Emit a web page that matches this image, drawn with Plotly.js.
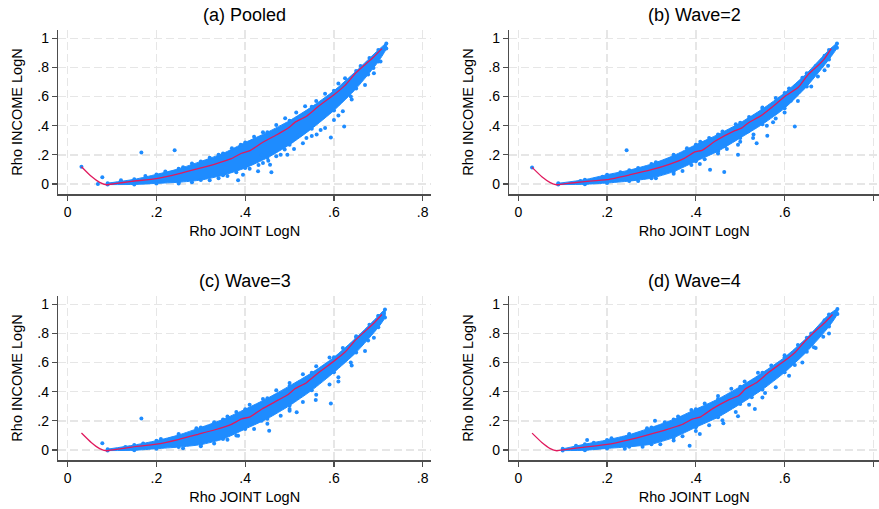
<!DOCTYPE html>
<html>
<head>
<meta charset="utf-8">
<script src="https://cdn.plot.ly/plotly-3.0.1.min.js"></script>
<style>html,body{margin:0;padding:0;background:#fff;}#chart{width:879px;height:509px;}</style>
</head>
<body>
<div id="chart"></div>
<script>
// ---------- data ----------
const panelTitles = ["(a) Pooled", "(b) Wave=2", "(c) Wave=3", "(d) Wave=4"];
const xTickVals = [0, 0.2, 0.4, 0.6, 0.8];
const xTickText = ["0", ".2", ".4", ".6", ".8"];
const yTickVals = [0, 0.2, 0.4, 0.6, 0.8, 1];
const yTickText = ["0", ".2", ".4", ".6", ".8", "1"];

// dense core of the point cloud: x positions with upper / lower edge
const aBandX = [0.09, 0.15, 0.2, 0.25, 0.3, 0.35, 0.4, 0.45, 0.5, 0.55, 0.6, 0.65, 0.7, 0.718];
const aUpper = [0.006, 0.032, 0.066, 0.104, 0.155, 0.21, 0.285, 0.355, 0.435, 0.53, 0.64, 0.775, 0.92, 0.965];
const aLower = [-0.004, -0.003, 0.004, 0.012, 0.027, 0.06, 0.11, 0.18, 0.27, 0.38, 0.505, 0.655, 0.84, 0.93];

const bBandX = [0.09, 0.15, 0.2, 0.25, 0.3, 0.35, 0.4, 0.45, 0.5, 0.55, 0.6, 0.65, 0.7, 0.718];
const bUpper = [0.005, 0.03, 0.064, 0.095, 0.137, 0.195, 0.27, 0.34, 0.42, 0.515, 0.625, 0.76, 0.92, 0.965];
const bLower = [-0.004, -0.002, 0.007, 0.02, 0.04, 0.085, 0.156, 0.225, 0.316, 0.41, 0.52, 0.67, 0.855, 0.935];

const cBandX = [0.09, 0.15, 0.2, 0.25, 0.3, 0.35, 0.4, 0.45, 0.5, 0.55, 0.6, 0.65, 0.7, 0.715];
const cUpper = [0.006, 0.034, 0.064, 0.103, 0.155, 0.21, 0.28, 0.355, 0.44, 0.53, 0.636, 0.77, 0.92, 0.965];
const cLower = [-0.004, -0.002, 0.009, 0.02, 0.037, 0.075, 0.144, 0.215, 0.305, 0.41, 0.533, 0.67, 0.842, 0.91];

const dBandX = [0.1, 0.15, 0.2, 0.25, 0.3, 0.35, 0.4, 0.45, 0.5, 0.55, 0.6, 0.65, 0.7, 0.719];
const dUpper = [0.008, 0.04, 0.069, 0.105, 0.155, 0.21, 0.28, 0.35, 0.435, 0.53, 0.636, 0.77, 0.93, 0.968];
const dLower = [-0.004, -0.002, 0.011, 0.022, 0.04, 0.085, 0.156, 0.225, 0.316, 0.415, 0.533, 0.675, 0.847, 0.934];

// sparser points around the edges of the cloud
const aHaloX = [0.12, 0.175, 0.22, 0.26, 0.28, 0.32, 0.34, 0.37, 0.39, 0.42, 0.44, 0.47, 0.49, 0.515, 0.535, 0.56, 0.58, 0.61, 0.625, 0.66, 0.68,
                0.25, 0.28, 0.32, 0.34, 0.36, 0.38, 0.41, 0.43, 0.44, 0.47, 0.48, 0.51, 0.53, 0.55, 0.57, 0.58, 0.6, 0.62, 0.64, 0.67, 0.69, 0.705];
const aHaloY = [0.025, 0.055, 0.085, 0.115, 0.14, 0.18, 0.2, 0.245, 0.27, 0.325, 0.355, 0.405, 0.452, 0.49, 0.533, 0.57, 0.62, 0.69, 0.725, 0.81, 0.865,
                0.004, 0.012, 0.025, 0.04, 0.055, 0.08, 0.105, 0.13, 0.145, 0.19, 0.2, 0.24, 0.28, 0.33, 0.37, 0.384, 0.44, 0.5, 0.58, 0.68, 0.76, 0.84];

const bHaloX = [0.14, 0.19, 0.23, 0.27, 0.31, 0.35, 0.38, 0.41, 0.43, 0.46, 0.49, 0.52, 0.55, 0.58, 0.61, 0.64, 0.67, 0.69,
                0.27, 0.31, 0.35, 0.37, 0.39, 0.42, 0.45, 0.47, 0.5, 0.53, 0.56, 0.58, 0.6, 0.63, 0.66, 0.69];
const bHaloY = [0.02, 0.05, 0.08, 0.11, 0.15, 0.2, 0.245, 0.29, 0.315, 0.36, 0.41, 0.46, 0.525, 0.59, 0.655, 0.73, 0.81, 0.88,
                0.02, 0.04, 0.07, 0.09, 0.13, 0.17, 0.21, 0.24, 0.29, 0.34, 0.4, 0.45, 0.49, 0.57, 0.67, 0.78];

const cHaloX = [0.13, 0.17, 0.21, 0.25, 0.29, 0.33, 0.36, 0.38, 0.41, 0.44, 0.47, 0.5, 0.53, 0.56, 0.59, 0.62, 0.65, 0.68, 0.7,
                0.26, 0.3, 0.33, 0.36, 0.38, 0.42, 0.45, 0.48, 0.5, 0.53, 0.56, 0.59, 0.61, 0.64, 0.67, 0.69];
const cHaloY = [0.02, 0.045, 0.075, 0.11, 0.15, 0.19, 0.23, 0.26, 0.31, 0.35, 0.41, 0.46, 0.52, 0.575, 0.635, 0.7, 0.78, 0.86, 0.92,
                0.012, 0.025, 0.045, 0.07, 0.1, 0.145, 0.18, 0.235, 0.27, 0.33, 0.38, 0.45, 0.5, 0.58, 0.68, 0.77];

const dHaloX = [0.13, 0.17, 0.21, 0.25, 0.29, 0.33, 0.36, 0.39, 0.42, 0.45, 0.48, 0.51, 0.54, 0.57, 0.6, 0.63, 0.66, 0.69,
                0.24, 0.28, 0.32, 0.35, 0.37, 0.4, 0.43, 0.46, 0.49, 0.52, 0.55, 0.58, 0.61, 0.64, 0.67, 0.7];
const dHaloY = [0.03, 0.05, 0.08, 0.11, 0.15, 0.19, 0.23, 0.275, 0.32, 0.37, 0.42, 0.47, 0.53, 0.58, 0.65, 0.72, 0.8, 0.89,
                0.008, 0.022, 0.04, 0.065, 0.095, 0.13, 0.17, 0.205, 0.26, 0.31, 0.36, 0.43, 0.51, 0.6, 0.7, 0.8];

// isolated points away from the cloud
const aOutX = [0.031, 0.068, 0.078, 0.166, 0.241, 0.384, 0.395, 0.429, 0.437, 0.452, 0.456, 0.459, 0.489, 0.495, 0.52, 0.538, 0.561, 0.593, 0.61, 0.623, 0.638, 0.677, 0.689];
const aOutY = [0.119, 0.0, 0.046, 0.217, 0.231, 0.025, 0.064, 0.087, 0.201, 0.16, 0.133, 0.08, 0.236, 0.201, 0.334, 0.316, 0.339, 0.32, 0.471, 0.394, 0.6, 0.751, 0.796];

const bOutX = [0.031, 0.244, 0.409, 0.432, 0.464, 0.465, 0.495, 0.495, 0.518, 0.529, 0.537, 0.561, 0.574, 0.614, 0.623, 0.675, 0.698];
const bOutY = [0.114, 0.231, 0.137, 0.098, 0.082, 0.259, 0.201, 0.27, 0.362, 0.316, 0.279, 0.332, 0.423, 0.572, 0.394, 0.737, 0.812];

const cOutX = [0.078, 0.166, 0.384, 0.437, 0.454, 0.5, 0.516, 0.559, 0.593, 0.61, 0.638, 0.677];
const cOutY = [0.046, 0.217, 0.098, 0.201, 0.133, 0.281, 0.259, 0.343, 0.32, 0.471, 0.6, 0.751];

const dOutX = [0.155, 0.308, 0.386, 0.409, 0.462, 0.495, 0.526, 0.533, 0.556, 0.623, 0.666, 0.687];
const dOutY = [0.069, 0.201, 0.03, 0.11, 0.183, 0.231, 0.362, 0.281, 0.391, 0.584, 0.705, 0.778];

// lowess fitted line
const aFitX = [0.031, 0.053, 0.072, 0.087, 0.106, 0.144, 0.2, 0.249, 0.294, 0.332, 0.369, 0.392, 0.411, 0.437, 0.474, 0.497, 0.512, 0.538, 0.565, 0.6, 0.625, 0.647, 0.67, 0.689, 0.708];
const aFitY = [0.119, 0.053, 0.011, -0.005, 0.002, 0.018, 0.037, 0.069, 0.105, 0.137, 0.174, 0.211, 0.229, 0.281, 0.343, 0.384, 0.423, 0.465, 0.533, 0.613, 0.677, 0.755, 0.819, 0.87, 0.929];

const bFitX = [0.031, 0.053, 0.072, 0.086, 0.106, 0.144, 0.2, 0.25, 0.3, 0.34, 0.375, 0.398, 0.414, 0.443, 0.488, 0.503, 0.518, 0.548, 0.575, 0.601, 0.631, 0.653, 0.676, 0.69, 0.705];
const bFitY = [0.114, 0.05, 0.01, -0.005, 0.002, 0.015, 0.03, 0.062, 0.098, 0.135, 0.178, 0.22, 0.231, 0.293, 0.366, 0.384, 0.419, 0.471, 0.535, 0.602, 0.664, 0.751, 0.815, 0.86, 0.929];

const cFitX = [0.031, 0.053, 0.072, 0.087, 0.106, 0.144, 0.2, 0.249, 0.294, 0.332, 0.369, 0.392, 0.411, 0.437, 0.474, 0.497, 0.512, 0.538, 0.565, 0.6, 0.625, 0.647, 0.67, 0.689, 0.708];
const cFitY = [0.117, 0.052, 0.01, -0.005, 0.003, 0.02, 0.04, 0.072, 0.108, 0.139, 0.176, 0.213, 0.228, 0.28, 0.342, 0.381, 0.42, 0.462, 0.53, 0.61, 0.672, 0.75, 0.815, 0.868, 0.93];

const dFitX = [0.031, 0.053, 0.072, 0.087, 0.106, 0.144, 0.2, 0.249, 0.294, 0.332, 0.369, 0.392, 0.411, 0.437, 0.474, 0.497, 0.512, 0.538, 0.565, 0.6, 0.625, 0.647, 0.67, 0.689, 0.708];
const dFitY = [0.116, 0.052, 0.01, -0.005, 0.003, 0.018, 0.038, 0.07, 0.106, 0.138, 0.175, 0.212, 0.228, 0.282, 0.344, 0.374, 0.42, 0.465, 0.535, 0.612, 0.675, 0.75, 0.818, 0.87, 0.93];

// ---------- drawing ----------
const BLUE = "#1e8cff";
const RED = "#e01a5e";
const FONT = "Liberation Sans, Arial, Helvetica, sans-serif";

const panels = [
  {bx: aBandX, up: aUpper, lo: aLower, hx: aHaloX, hy: aHaloY, ox: aOutX, oy: aOutY, fx: aFitX, fy: aFitY},
  {bx: bBandX, up: bUpper, lo: bLower, hx: bHaloX, hy: bHaloY, ox: bOutX, oy: bOutY, fx: bFitX, fy: bFitY},
  {bx: cBandX, up: cUpper, lo: cLower, hx: cHaloX, hy: cHaloY, ox: cOutX, oy: cOutY, fx: cFitX, fy: cFitY},
  {bx: dBandX, up: dUpper, lo: dLower, hx: dHaloX, hy: dHaloY, ox: dOutX, oy: dOutY, fx: dFitX, fy: dFitY}
];

const traces = [];
panels.forEach((p, i) => {
  const xa = i === 0 ? "x" : "x" + (i + 1);
  const ya = i === 0 ? "y" : "y" + (i + 1);
  traces.push({
    type: "scatter", mode: "lines", xaxis: xa, yaxis: ya,
    x: p.bx.concat(p.bx.slice().reverse()),
    y: p.up.concat(p.lo.slice().reverse()),
    fill: "toself", fillcolor: BLUE, line: {color: BLUE, width: 1, shape: "spline", smoothing: 0.6},
    hoverinfo: "skip", showlegend: false
  });
  traces.push({
    type: "scatter", mode: "markers", xaxis: xa, yaxis: ya,
    x: p.bx.concat(p.bx, p.hx, p.ox), y: p.up.concat(p.lo, p.hy, p.oy),
    marker: {color: BLUE, size: 4}, showlegend: false
  });
  traces.push({
    type: "scatter", mode: "lines", xaxis: xa, yaxis: ya,
    x: p.fx, y: p.fy, line: {color: RED, width: 1.3, shape: "spline", smoothing: 0.5},
    showlegend: false
  });
});

const W = 879, H = 509;
const colDom = [[58.3 / W, 431 / W], [509.3 / W, 1.0]];
const rowDom = [[1 - 194 / H, 1 - 30 / H], [1 - 460 / H, 1 - 296 / H]];
const xRanges = [[-0.0212, 0.8187], [-0.0203, 0.8127]];
const yRange = [-0.0686, 1.057];

const layout = {
  width: W, height: H,
  margin: {l: 0, r: 0, t: 0, b: 0},
  paper_bgcolor: "#ffffff", plot_bgcolor: "#ffffff",
  font: {family: FONT, size: 14, color: "#000"},
  showlegend: false,
  annotations: []
};

for (let i = 0; i < 4; i++) {
  const c = i % 2, r = Math.floor(i / 2);
  const sx = i === 0 ? "" : String(i + 1);
  layout["xaxis" + sx] = {
    domain: colDom[c], range: xRanges[c], anchor: "y" + sx,
    tickvals: xTickVals, ticktext: xTickText,
    showline: true, linecolor: "#4d4d4d", linewidth: 1.5, mirror: false,
    ticks: "outside", ticklen: 5, tickcolor: "#4d4d4d", tickwidth: 1.2,
    showgrid: true, gridcolor: "#e6e6e6", griddash: "8px,4px", gridwidth: 1.5,
    zeroline: false, tickfont: {size: 14, family: FONT, color: "#000"},
    title: {text: "Rho JOINT LogN", font: {size: 14.5, family: FONT, color: "#000"}, standoff: 6},
    automargin: false
  };
  layout["yaxis" + sx] = {
    domain: rowDom[r], range: yRange, anchor: "x" + sx,
    tickvals: yTickVals, ticktext: yTickText,
    showline: true, linecolor: "#4d4d4d", linewidth: 1.5, mirror: false,
    ticks: "outside", ticklen: 5, tickcolor: "#4d4d4d", tickwidth: 1.2,
    showgrid: true, gridcolor: "#e6e6e6", griddash: "8px,4px", gridwidth: 1.5,
    zeroline: false, tickfont: {size: 14, family: FONT, color: "#000"},
    title: {text: "Rho INCOME LogN", font: {size: 14.5, family: FONT, color: "#000"}, standoff: 11},
    automargin: false
  };
  layout.annotations.push({
    text: panelTitles[i], xref: "paper", yref: "paper",
    x: (colDom[c][0] + colDom[c][1]) / 2, y: rowDom[r][1] + 15 / H,
    xanchor: "center", yanchor: "middle", showarrow: false,
    font: {size: 18, family: FONT, color: "#000"}
  });
}

Plotly.newPlot("chart", traces, layout, {displayModeBar: false, staticPlot: true});
</script>
</body>
</html>
